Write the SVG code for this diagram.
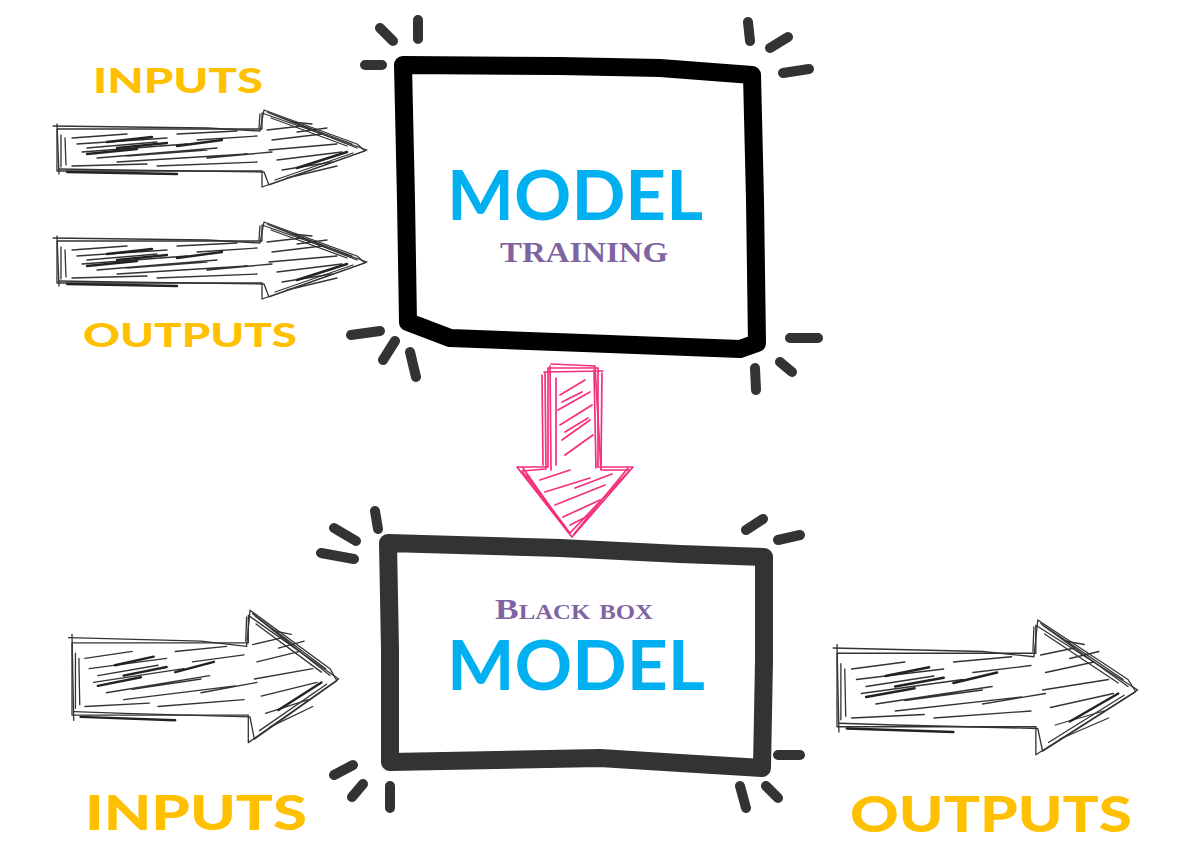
<svg xmlns="http://www.w3.org/2000/svg" width="1179" height="856" viewBox="0 0 1179 856">
<style>
.bg{fill:#ffffff}
.box{fill:#ffffff;stroke-linejoin:round;stroke-linecap:round;stroke-width:18}
.ray{stroke:#333333;stroke-width:10;stroke-linecap:round;fill:none}
.model{font-family:Lato,"Liberation Sans",sans-serif;font-weight:700;fill:#00B0F0;font-size:68px}
.sub{font-family:"Liberation Serif",serif;font-weight:700;fill:#8064A2;font-size:30px}
.lbl{font-family:Lato,"Liberation Sans",sans-serif;font-weight:900;fill:#FFC000}
.sk{fill:none;stroke:#333333;stroke-width:1.3;stroke-linecap:round;stroke-linejoin:round;vector-effect:non-scaling-stroke}
.skd{fill:none;stroke:#222222;stroke-width:2.4;stroke-linecap:round;vector-effect:non-scaling-stroke}
.pk{fill:none;stroke:#F52F7B;stroke-width:1.7;stroke-linecap:round;stroke-linejoin:round}
</style>
<defs>
<g id="sketchArrow">
<path class="sk" d="M0,-21 L205,-21 L205,-37 L310,0 L205,37 L205,21 L0,21 Z"/>
<path class="sk" d="M-4,-24 L150,-22 L203,-19 L207,-40 L300,-6 L308,1 L212,35 L207,22 L60,20 L2,19"/>
<path class="sk" d="M4,-15 L4,17 M8,-12 L9,15 M0,-26 L2,24 M202,-22 L203,-36"/>
<path class="sk" d="M214,-32 L290,-4 M218,30 L296,3 M212,-37 L300,-2 M210,-38 L295,-6"/>
<path class="sk" d="M15,-12 L70,-16 M20,-6 L110,-12 M25,2 L130,-6 M40,8 L160,-2 M60,12 L190,4 M15,16 L90,14 M100,16 L200,12 M140,-10 L200,-14 M120,-16 L180,-19 M30,-2 L100,-8 M70,6 L150,0 M150,8 L215,2"/>
<path class="sk" d="M210,-20 L245,-24 M215,-10 L265,-16 M212,0 L280,-6 M220,10 L285,2 M225,20 L275,12 M235,-28 L255,-26 M230,28 L280,16 M240,-18 L270,-22"/>
<path class="skd" d="M50,-8 L95,-13 M120,-4 L165,-10 M30,4 L80,-1 M10,22 L120,24 M60,-2 L110,-7 M240,18 L290,2"/>
</g>
</defs>
<rect class="bg" x="0" y="0" width="1179" height="856"/>

<g id="connectors">
<use href="#sketchArrow" transform="translate(57,150)"/>
<use href="#sketchArrow" transform="translate(57,262)"/>
<use href="#sketchArrow" transform="translate(72,679) scale(0.86,1.72)"/>
<use href="#sketchArrow" transform="translate(837,690) scale(0.97,1.75)"/>
<g id="pinkArrow">
<path class="pk" d="M548,368 L598,368 L598,467 L633,467 L572,537 L517,467 L548,467 Z"/>
<path class="pk" d="M544,372 L603,371 M551,364 L595,366 L601,470 L630,470 L570,533 L522,471 L546,469 L545,372"/>
<path class="pk" d="M542,375 L543,465 M602,373 L601,465 M556,378 L556,465 M523,468 L568,532 M628,468 L574,534 M550,366 L551,470 M594,370 L596,468 M527,475 L566,528"/>
<path class="pk" d="M560,395 L585,380 M558,410 L590,392 M560,425 L592,405 M562,440 L590,420 M565,455 L593,435 M540,480 L570,470 M545,492 L590,478 M555,505 L605,485 M563,517 L600,500 M570,525 L590,515 M562,402 L582,392 M565,432 L588,418 M575,488 L612,474"/>
</g>
</g>

<g id="topModel">
<path class="box" stroke="#000000" d="M403,65 L560,66 L660,68 L752,75 L755,200 L757,343 L740,349 L583,343 L450,338 L408,322 L406,200 Z"/>
<path class="ray" d="M380,28 L393,41 M418,20 L418,39 M365,65 L382,65 M748,22 L750,41 M770,48 L788,37 M783,73 L809,69 M351,335 L380,331 M383,360 L395,341 M410,352 L416,377 M790,338 L818,338 M780,362 L792,372 M755,368 L756,390"/>
<text class="model" x="447" y="220" textLength="256" lengthAdjust="spacingAndGlyphs">MODEL</text>
<text class="sub" x="500" y="262" textLength="168" lengthAdjust="spacingAndGlyphs">TRAINING</text>
</g>

<g id="blackBoxModel">
<path class="box" stroke="#333333" d="M388,543 L560,548 L680,554 L764,557 L764,660 L762,768 L680,763 L600,758 L390,762 L390,650 Z"/>
<path class="ray" d="M375,511 L378,529 M334,528 L356,541 M321,553 L354,559 M746,530 L763,519 M778,540 L800,535 M778,755 L800,755 M334,775 L353,765 M352,797 L363,784 M390,786 L390,808 M740,786 L746,808 M766,786 L778,798"/>
<text class="sub" x="495" y="619" font-size="28" font-variant="small-caps" textLength="158" lengthAdjust="spacingAndGlyphs">Black box</text>
<text class="model" x="447" y="690" font-size="66" textLength="258" lengthAdjust="spacingAndGlyphs">MODEL</text>
</g>

<g id="labels">
<text class="lbl" x="93" y="93" font-size="34" textLength="170" lengthAdjust="spacingAndGlyphs">INPUTS</text>
<text class="lbl" x="83" y="347" font-size="33" textLength="214" lengthAdjust="spacingAndGlyphs">OUTPUTS</text>
<text class="lbl" x="85" y="830" font-size="48" textLength="222" lengthAdjust="spacingAndGlyphs">INPUTS</text>
<text class="lbl" x="850" y="832" font-size="50" textLength="282" lengthAdjust="spacingAndGlyphs">OUTPUTS</text>
</g>
</svg>
